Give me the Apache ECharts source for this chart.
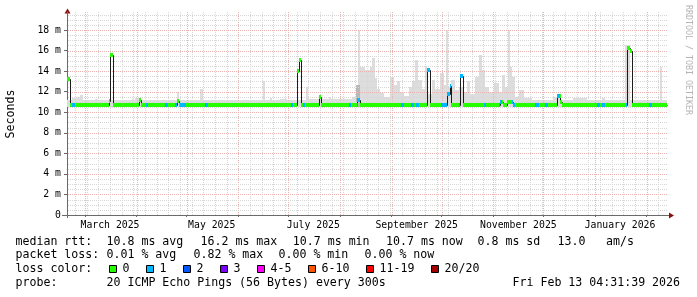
<!DOCTYPE html>
<html><head><meta charset="utf-8">
<script src="https://cdn.jsdelivr.net/npm/echarts@6/dist/echarts.min.js"></script>
<style>html,body{margin:0;padding:0;background:#fff}#c{width:697px;height:297px}</style>
</head><body><div id="c"></div>
<script>
// ---- time frame (last 360 days) ----
const START = Date.UTC(2025, 1, 18, 4, 31, 39);
const END = Date.UTC(2026, 1, 13, 4, 31, 39);
const SPAN_DAYS = 360;
const DAY = 86400000;
const t = d => START + d * DAY;

// ---- data (day offset from START, value in ms) ----
const medianSteps = [
  [0, 13.2], [1.5, 10.7],
  [25.2, 11.1], [25.8, 15.6], [27.4, 10.7],
  [43.4, 11.2], [44.4, 10.7],
  [66.0, 11.1], [67.0, 10.7],
  [138.0, 14.0], [139.2, 15.1], [140.4, 10.7],
  [151.2, 11.45], [152.4, 10.7],
  [174.0, 11.2], [175.8, 10.7],
  [216.0, 14.15], [217.8, 10.7],
  [228.0, 11.8], [229.6, 12.55], [230.6, 10.7],
  [235.6, 13.55], [237.6, 10.7],
  [259.8, 11.0], [261.6, 10.7], [264.0, 11.0], [267.6, 10.7],
  [294.0, 11.6], [295.8, 11.0], [296.8, 10.7],
  [336.0, 16.2], [337.8, 15.95], [338.8, 10.7]
];
// [startDay, endDay, lost pings out of 20]
const lossRanges = [
  [3.0, 4.8, 1], [47.4, 48.6, 1], [58.8, 60.6, 1], [64.8, 66.0, 1], [67.8, 71.4, 1],
  [82.8, 84.6, 1], [134.4, 135.6, 1], [141.6, 142.8, 1], [169.2, 170.1, 1], [173.7, 175.8, 1],
  [200.1, 201.9, 1], [206.1, 207.9, 1], [209.1, 211.2, 1], [216.0, 217.8, 1], [224.1, 230.6, 1],
  [234.9, 237.6, 1], [250.2, 251.4, 1], [259.2, 261.0, 1], [267.0, 268.8, 1], [280.8, 283.2, 1],
  [286.8, 288.6, 1], [294.0, 295.6, 1], [318.0, 319.5, 1], [321.0, 322.8, 1], [335.4, 336.0, 1],
  [349.2, 351.0, 1]
];
// smoke (max ping) top, piecewise from day
const smokeSteps = [
  [0, 11.15], [3.0, 11.4], [5.4, 11.5], [7.8, 11.7], [9.6, 11.15], [16.8, 11.3], [18.6, 11.15],
  [39.0, 11.3], [40.2, 11.15], [40.8, 11.4], [43.8, 11.15], [66.0, 12.0], [67.2, 11.15],
  [79.8, 12.3], [81.6, 11.15], [87.0, 11.2], [117.6, 13.0], [118.5, 11.2], [121.8, 11.4],
  [123.0, 11.2], [127.8, 11.3], [132.0, 11.2], [143.4, 12.5], [144.3, 11.25], [157.2, 11.5],
  [158.1, 11.25], [165.0, 11.3], [166.8, 11.25], [171.0, 11.5], [174.3, 18.0], [175.5, 14.4],
  [178.8, 14.1], [181.8, 14.4], [183.0, 15.25], [184.8, 13.3], [186.0, 12.3], [187.8, 11.9],
  [190.2, 11.5], [193.8, 13.45], [196.2, 12.65], [198.0, 13.0], [199.8, 11.95], [202.2, 11.6],
  [205.2, 12.5], [207.0, 13.0], [208.8, 15.1], [210.6, 13.15], [213.0, 12.3], [214.8, 14.4],
  [216.0, 11.75], [219.0, 13.15], [220.8, 12.3], [223.8, 13.8], [226.2, 12.65], [227.4, 18.0],
  [228.6, 12.5], [230.4, 13.15], [232.8, 12.2], [235.2, 12.5], [237.6, 12.0], [240.0, 13.0],
  [241.8, 11.75], [244.8, 13.45], [247.2, 15.6], [249.0, 14.1], [250.8, 12.5], [253.2, 12.0],
  [256.2, 12.8], [259.2, 12.0], [261.0, 13.6], [262.8, 12.5], [264.3, 18.0], [265.5, 14.4],
  [267.0, 13.45], [268.8, 11.5], [271.2, 12.2], [274.2, 11.35], [279.0, 11.2], [291.6, 11.5],
  [295.8, 11.2], [303.6, 11.35], [312.0, 11.2], [321.0, 11.35], [322.8, 11.2], [334.8, 16.55],
  [337.8, 11.2], [355.8, 14.4], [356.7, 11.2]
];
const smokeDarkSteps = [[173.1, 12.6], [175.8, null]];
const smokeFloor = 10.55;

const yMax = 19.75;
const yTicks = [0, 2, 4, 6, 8, 10, 12, 14, 16, 18];
const yTickLabels = ['0', '2 m', '4 m', '6 m', '8 m', '10 m', '12 m', '14 m', '16 m', '18 m'];
const xTickDates = ['2025-03-16', '2025-05-16', '2025-07-16', '2025-09-16', '2025-11-16', '2026-01-16'];
const xTickLabels = ['March 2025', 'May 2025', 'July 2025', 'September 2025', 'November 2025', 'January 2026'];

const lossColors = ['#26ff00', '#00b8ff', '#0059ff', '#7e00ff', '#ff00ff', '#ff5500', '#ff0000', '#a10000'];
const lossLabels = ['0', '1', '2', '3', '4-5', '6-10', '11-19', '20/20'];
const lossUpper = [0, 1, 2, 3, 5, 10, 19, 20];

const rttStats = ['10.8 ms avg', '16.2 ms max', '10.7 ms min', '10.7 ms now', '0.8 ms sd', '13.0', 'am/s'];
const lossStats = ['0.01 % avg', '0.82 % max', '0.00 % min', '0.00 % now'];
const probeText = '20 ICMP Echo Pings (56 Bytes) every 300s';
const stampText = 'Fri Feb 13 04:31:39 2026';

// ---- layout ----
const G = { left: 67, top: 12, right: 30, bottom: 82 };
const MONO = '"DejaVu Sans Mono", monospace';
const LEG = '11.6px ' + MONO;
const MAJOR = '#ebb2b2', MINOR = '#d6d6d6', AXIS = '#6a6a6a', ARROW = '#8a1010';

// ---- build helpers ----
function stepsToSegs(steps, floor) {
  const out = [];
  for (let i = 0; i < steps.length; i++) {
    const [d, v] = steps[i];
    const e = i + 1 < steps.length ? steps[i + 1][0] : SPAN_DAYS;
    if (v != null && e > d) out.push([t(d), t(e), v, floor]);
  }
  return out;
}
const smokeData = stepsToSegs(smokeSteps, smokeFloor);
const smokeDarkData = stepsToSegs(smokeDarkSteps, smokeFloor);

function medianAt(d) { let v = medianSteps[0][1]; for (const s of medianSteps) if (s[0] <= d + 1e-9) v = s[1]; return v; }
function lossAt(d) { for (const r of lossRanges) if (d >= r[0] - 1e-9 && d < r[1] - 1e-9) return r[2]; return 0; }
function lossColorIdx(n) { for (let i = 0; i < lossUpper.length; i++) if (n <= lossUpper[i]) return i; return lossUpper.length - 1; }

const bounds = new Set([0, SPAN_DAYS]);
medianSteps.forEach(s => bounds.add(s[0]));
lossRanges.forEach(r => { bounds.add(r[0]); bounds.add(r[1]); });
const bArr = [...bounds].sort((a, b) => a - b);
const BAND = 0.195;
const bandData = [];
for (let i = 0; i < bArr.length - 1; i++) {
  const a = bArr[i], b = bArr[i + 1];
  const m = medianAt(a);
  bandData.push([t(a), t(b), m - BAND, m + BAND, lossColorIdx(lossAt(a))]);
}
const medianLineData = medianSteps.map((s, i) => {
  const e = i + 1 < medianSteps.length ? medianSteps[i + 1][0] : SPAN_DAYS;
  const nv = i + 1 < medianSteps.length ? medianSteps[i + 1][1] : s[1];
  return [t(s[0]), t(e), s[1], nv];
});

// grid lines: weekly (Sundays) minor, monthly major
const vGrid = [];
const monthStarts = [];
for (let y = 2025, m = 2; ; m++) {
  if (m > 11) { m = 0; y++; }
  const ts = Date.UTC(y, m, 1);
  if (ts > END) break;
  monthStarts.push(ts);
}
const firstSunday = Date.UTC(2025, 1, 23);
for (let ts = firstSunday; ts < END; ts += 7 * DAY) {
  if (!monthStarts.includes(ts)) vGrid.push([ts, 0]);
}
monthStarts.forEach(ts => vGrid.push([ts, 1]));
const hGrid = [];
for (let v = 0.5; v < yMax; v += 0.5) hGrid.push([START, v, (Math.abs(v / 2 - Math.round(v / 2)) < 1e-9) ? 1 : 0]);

function rectRender(fillFn) {
  return (params, api) => {
    const a = api.coord([api.value(0), api.value(2)]);
    const b = api.coord([api.value(1), api.value(3)]);
    const x0 = Math.round(a[0]);
    const x1 = Math.max(Math.round(b[0]), x0 + 1);
    const ya = Math.round(a[1]), yb = Math.round(b[1]);
    return { type: 'rect', shape: { x: x0, y: Math.min(ya, yb), width: x1 - x0, height: Math.max(1, Math.abs(ya - yb)) },
      style: { fill: fillFn(api) } };
  };
}

const chart = echarts.init(document.getElementById('c'), null, { renderer: 'canvas' });

const graphics = [];
graphics.push({ type: 'text', x: 10.8, y: 114, rotation: Math.PI / 2,
  style: { text: 'Seconds', font: LEG, fill: '#000', align: 'center', verticalAlign: 'middle' } });
graphics.push({ type: 'text', x: 688, y: 60, rotation: -Math.PI / 2,
  style: { text: 'RRDTOOL / TOBI OETIKER', font: '8.3px ' + MONO, fill: '#b4b4b4', align: 'center', verticalAlign: 'middle' } });
const axX = G.left, axY = 297 - G.bottom, plotRight = 697 - G.right;
graphics.push({ type: 'line', shape: { x1: axX - 5, y1: axY + 0.5, x2: axX, y2: axY + 0.5 }, style: { stroke: AXIS, lineWidth: 1 } });
graphics.push({ type: 'line', shape: { x1: axX + 0.5, y1: axY, x2: axX + 0.5, y2: axY + 3 }, style: { stroke: AXIS, lineWidth: 1 } });
graphics.push({ type: 'line', shape: { x1: plotRight, y1: axY + 0.5, x2: plotRight + 3, y2: axY + 0.5 }, style: { stroke: AXIS, lineWidth: 1 } });
graphics.push({ type: 'polygon', shape: { points: [[axX + 0.5, G.top - 3.5], [axX - 2.5, G.top + 1.5], [axX + 3.5, G.top + 1.5]] }, style: { fill: ARROW } });
graphics.push({ type: 'polygon', shape: { points: [[plotRight + 7, axY + 0.5], [plotRight + 2, axY - 2.5], [plotRight + 2, axY + 3.5]] }, style: { fill: ARROW } });

const L1 = 241.6, L2 = 255.4, L3 = 269.2, L4 = 283;
const txt = (x, y, s) => ({ type: 'text', x: x, y: y, style: { text: s, font: LEG, fill: '#000', verticalAlign: 'middle' } });
graphics.push(txt(15.5, L1, 'median rtt:'));
const rttX = [106.5, 200.5, 292.8, 386, 477.5, 557.5, 606];
rttStats.forEach((s, i) => graphics.push(txt(rttX[i], L1, s)));
graphics.push(txt(15.5, L2, 'packet loss:'));
const lossX = [106.5, 193.5, 278.5, 364.5];
lossStats.forEach((s, i) => graphics.push(txt(lossX[i], L2, s)));
graphics.push(txt(15.5, L3, 'loss color:'));
let bx = 109;
lossLabels.forEach((lab, i) => {
  graphics.push({ type: 'rect', shape: { x: bx + 0.5, y: 265.5, width: 7, height: 7 }, style: { fill: lossColors[i], stroke: '#000', lineWidth: 1 } });
  graphics.push(txt(bx + 13.5, L3, lab));
  bx += 30 + 7 * lab.length;
});
graphics.push(txt(15.5, L4, 'probe:'));
graphics.push(txt(106.5, L4, probeText));
graphics.push(txt(512.5, L4, stampText));

const xTickTimes = xTickDates.map(s => Date.parse(s + 'T00:00:00Z'));

chart.setOption({
  animation: false,
  backgroundColor: '#fff',
  grid: { left: G.left, top: G.top, right: G.right, bottom: G.bottom, containLabel: false },
  xAxis: {
    type: 'value', min: START, max: END, scale: true,
    axisLine: { show: true, lineStyle: { color: AXIS, width: 1 } },
    axisTick: { show: true, customValues: monthStarts, length: 2, lineStyle: { color: AXIS } },
    axisLabel: { show: true, customValues: xTickTimes, margin: 5, color: '#000', fontFamily: MONO, fontSize: 9.8,
      formatter: v => { const i = xTickTimes.indexOf(+v); return i >= 0 ? xTickLabels[i] : ''; } },
    splitLine: { show: false }
  },
  yAxis: {
    type: 'value', min: 0, max: yMax,
    axisLine: { show: true, lineStyle: { color: AXIS, width: 1 } },
    axisTick: { show: true, customValues: yTicks, length: 3, lineStyle: { color: AXIS } },
    axisLabel: { show: true, customValues: yTicks, margin: 6, color: '#000', fontFamily: MONO, fontSize: 9.8,
      formatter: v => { const i = yTicks.indexOf(+v); return i >= 0 ? yTickLabels[i] : ''; } },
    splitLine: { show: false }
  },
  series: [
    { type: 'custom', name: 'smoke', z: 1, data: smokeData, encode: { x: [0, 1], y: [2, 3] },
      renderItem: rectRender(() => '#dddddd') },
    { type: 'custom', name: 'smokeDark', z: 1, data: smokeDarkData, encode: { x: [0, 1], y: [2, 3] },
      renderItem: rectRender(() => '#b8b8b8') },
    { type: 'custom', name: 'vgrid', z: 2, silent: true, data: vGrid, encode: { x: 0, y: 1 },
      renderItem: (params, api) => {
        const cs = params.coordSys;
        const p = api.coord([api.value(0), 0]);
        const x = Math.round(p[0]) + 0.5;
        return { type: 'line', shape: { x1: x, y1: cs.y, x2: x, y2: cs.y + cs.height },
          style: { stroke: api.value(1) ? MAJOR : MINOR, lineWidth: 1, lineDash: [1, 1] } };
      } },
    { type: 'custom', name: 'hgrid', z: 2, silent: true, data: hGrid, encode: { x: 0, y: 1 },
      renderItem: (params, api) => {
        const cs = params.coordSys;
        const p = api.coord([api.value(0), api.value(1)]);
        const y = Math.round(p[1]) + 0.5;
        return { type: 'line', shape: { x1: cs.x + 1, y1: y, x2: cs.x + cs.width, y2: y },
          style: { stroke: api.value(2) ? MAJOR : MINOR, lineWidth: 1, lineDash: [1, 1] } };
      } },
    { type: 'custom', name: 'median', z: 3, data: medianLineData, encode: { x: [0, 1], y: [2, 3] },
      renderItem: (params, api) => {
        const a = api.coord([api.value(0), api.value(2)]);
        const b = api.coord([api.value(1), api.value(2)]);
        const c = api.coord([api.value(1), api.value(3)]);
        const x0 = Math.round(a[0]) + 0.5, x1 = Math.round(b[0]) + 0.5;
        const y0 = Math.round(a[1]) + 0.5, y1 = Math.round(c[1]) + 0.5;
        return { type: 'polyline', shape: { points: [[x0, y0], [x1, y0], [x1, y1]] },
          style: { stroke: '#1c1c1c', lineWidth: 1, fill: 'none' } };
      } },
    { type: 'custom', name: 'loss', z: 4, data: bandData, encode: { x: [0, 1], y: [2, 3] },
      renderItem: rectRender(api => lossColors[api.value(4)]) }
  ],
  graphic: graphics
});
</script></body></html>
